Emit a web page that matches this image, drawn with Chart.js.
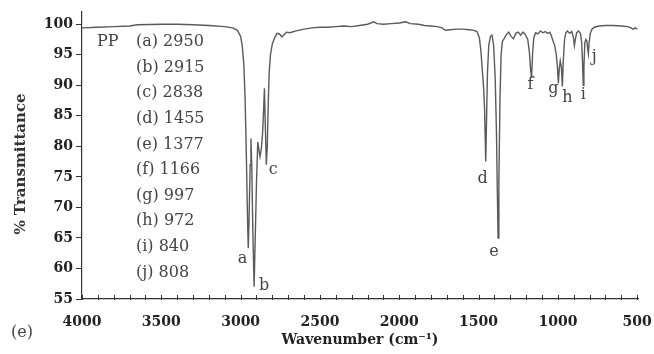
<!DOCTYPE html>
<html>
<head>
<meta charset="utf-8">
<script src="https://cdn.jsdelivr.net/npm/chart.js@4.4.1/dist/chart.umd.min.js"></script>
<style>
  html, body { margin: 0; padding: 0; background: #fff; }
  #wrap { width: 654px; height: 354px; }
</style>
</head>
<body>
<div id="wrap"><canvas id="c" width="654" height="354"></canvas></div>
<script>
// ---- data ----
const wavenumbers = [4000,3900,3800,3700,3650,3500,3400,3300,3200,3100,3050,3020,3000,2990,2980,2972,2965,2958,2952,2947,2940,2935,2930,2923,2915,2908,2900,2892,2885,2878,2870,2862,2855,2850,2845,2838,2832,2826,2820,2812,2800,2785,2770,2755,2740,2725,2710,2690,2650,2600,2550,2500,2450,2400,2350,2300,2250,2200,2160,2140,2100,2050,2000,1960,1930,1880,1840,1800,1760,1730,1710,1680,1640,1600,1560,1530,1510,1495,1485,1475,1468,1462,1455,1450,1444,1436,1425,1415,1405,1395,1387,1382,1377,1372,1365,1358,1350,1340,1325,1310,1295,1280,1265,1250,1235,1220,1205,1190,1180,1172,1166,1160,1152,1140,1125,1110,1095,1080,1065,1050,1040,1030,1020,1010,1003,997,992,985,978,972,966,958,950,940,925,912,902,896,890,882,870,858,850,845,840,836,830,824,817,812,808,803,796,785,770,740,700,650,600,560,540,525,512,500];
const transmittance = [99.4,99.5,99.6,99.7,99.9,100.0,100.0,99.9,99.8,99.6,99.4,99.0,98.0,96.5,93.5,88,80,70,63.3,68,77,81.3,77,66,57.0,65,74,80.7,79.5,78.3,79.5,82,86,89.5,84,77.0,80,87,92,95,96.8,97.8,98.5,98.4,97.9,98.3,98.7,98.6,98.9,99.2,99.4,99.5,99.5,99.6,99.7,99.6,99.8,100.0,100.4,100.1,100.0,100.1,100.2,100.4,100.1,100.0,99.8,99.7,99.6,99.4,99.0,99.1,99.2,99.2,99.1,99.0,98.8,97.8,95.5,92,89.5,86,77.5,84,92,96.5,98.0,98.2,96.5,91,82,73,65.0,74,88,95,97.2,97.6,98.3,98.7,98.0,97.6,98.5,98.7,98.2,98.7,98.3,97.5,95.5,92.5,91.2,95,97.8,98.6,98.4,98.9,98.6,98.8,98.5,98.7,98.0,97.2,96.5,95,93,90.3,92.5,94,93,89.8,94,97.5,98.6,98.9,98.5,98.8,97.8,96.5,97.5,98.6,98.9,98.5,97,94,90.0,93,97,97.5,97.2,96,95.2,97,98.5,99.2,99.5,99.7,99.8,99.8,99.7,99.6,99.4,99.2,99.4,99.2];

const sampleName = "PP";
const peakLetters = ["a","b","c","d","e","f","g","h","i","j"];
const peakWavenumbers = [2950,2915,2838,1455,1377,1166,997,972,840,808];
const peakTransmittance = [63.3,57.0,77.0,77.5,65.0,91.2,90.3,89.8,90.0,95.2];

const xTickValues = [4000,3500,3000,2500,2000,1500,1000,500];
const xMinorStep = 100;
const yTickValues = [55,60,65,70,75,80,85,90,95,100];
const xTitle = "Wavenumber (cm\u207B\u00B9)";
const yTitle = "% Transmittance";
const panelLabel = "(e)";

// ---- styles (pixel offsets of peak letters from the peak tip) ----
const letterOffsets = [[-6,11],[10,-1],[7,5],[-3,17],[-4,14],[-1,7],[-5,5],[5,11],[0,10],[6,3]];

const serif = "'DejaVu Serif', 'Liberation Serif', serif";
const inkColor = "#333";
const textGrey = "#444";

const annotPlugin = {
  id: 'annot',
  afterDraw(chart) {
    const ctx = chart.ctx;
    const xs = chart.scales.x, ys = chart.scales.y;
    const area = chart.chartArea;
    ctx.save();
    // minor x ticks (inside)
    ctx.strokeStyle = inkColor;
    ctx.lineWidth = 1;
    ctx.beginPath();
    for (let v = 500; v <= 4000; v += xMinorStep) {
      const px = Math.round(xs.getPixelForValue(v)) + 0.5;
      ctx.moveTo(px, area.bottom - 4);
      ctx.lineTo(px, area.bottom + 1);
    }
    ctx.stroke();

    // peak letters
    ctx.fillStyle = textGrey;
    ctx.font = "16px " + serif;
    ctx.textAlign = "center";
    ctx.textBaseline = "middle";
    peakLetters.forEach((l, i) => {
      const px = xs.getPixelForValue(peakWavenumbers[i]);
      const py = ys.getPixelForValue(peakTransmittance[i]);
      ctx.fillText(l, px + letterOffsets[i][0], py + letterOffsets[i][1]);
    });

    // legend list
    ctx.textAlign = "left";
    ctx.font = "16px " + serif;
    ctx.fillText(sampleName, area.left + 15, 42);
    peakLetters.forEach((l, i) => {
      ctx.fillText("(" + l + ") " + peakWavenumbers[i], area.left + 54, 42 + i * 25.6);
    });

    // panel label
    ctx.fillText(panelLabel, 11, 333);

    // y title
    ctx.font = "bold 15px " + serif;
    ctx.fillStyle = inkColor;
    ctx.translate(21, 164);
    ctx.rotate(-Math.PI / 2);
    ctx.textAlign = "center";
    ctx.fillText(yTitle, 0, 0);
    ctx.restore();
  }
};

new Chart(document.getElementById('c'), {
  type: 'scatter',
  data: {
    datasets: [{
      data: wavenumbers.map((w, i) => ({ x: w, y: transmittance[i] })),
      showLine: true,
      borderColor: '#5a5a5a',
      borderWidth: 1.4,
      pointRadius: 0,
      tension: 0,
      fill: false
    }]
  },
  options: {
    responsive: false,
    animation: false,
    devicePixelRatio: 1,
    layout: { padding: { left: 0, right: 16, top: 12, bottom: 0 } },
    plugins: { legend: { display: false }, tooltip: { enabled: false } },
    scales: {
      x: {
        type: 'linear',
        min: 495, max: 4000, reverse: true,
        afterFit(s) { s.height = 55; s.paddingLeft = 0; s.paddingRight = 0; },
        afterBuildTicks(s) { s.ticks = xTickValues.map(v => ({ value: v })); },
        grid: { drawOnChartArea: false, drawTicks: false },
        border: { display: true, color: inkColor, width: 1.2 },
        ticks: {
          color: '#222', padding: 15, maxRotation: 0, autoSkip: false,
          callback: v => String(v),
          font: { family: serif, size: 14, weight: 'bold' }
        },
        title: {
          display: true, text: xTitle, color: '#222',
          font: { family: serif, size: 14, weight: 'bold' },
          padding: { top: 0, bottom: 5 }
        }
      },
      y: {
        type: 'linear',
        min: 55, max: 102,
        afterFit(s) { s.width = 82; s.paddingTop = 0; s.paddingBottom = 0; },
        afterBuildTicks(s) { s.ticks = yTickValues.map(v => ({ value: v })); },
        grid: { drawOnChartArea: false, drawTicks: true, tickLength: 6, color: inkColor },
        border: { display: true, color: inkColor, width: 1.2 },
        ticks: {
          color: '#222', padding: 3,
          callback: v => String(v),
          font: { family: serif, size: 14, weight: 'bold' }
        }
      }
    }
  },
  plugins: [annotPlugin]
});
</script>
</body>
</html>
